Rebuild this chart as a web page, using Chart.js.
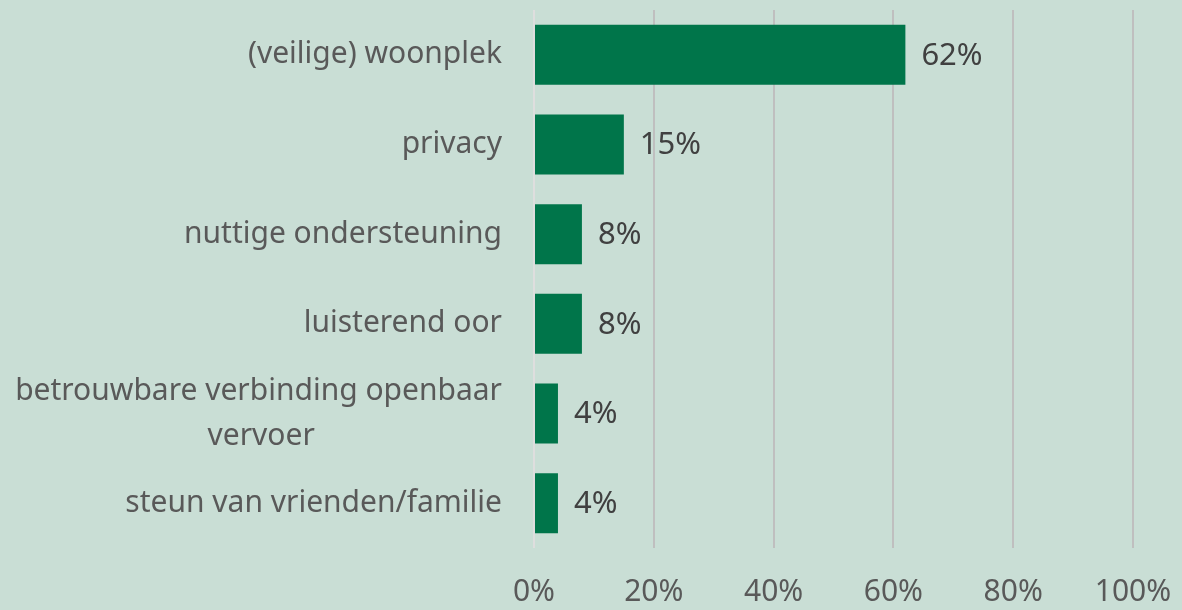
<!DOCTYPE html>
<html><head><meta charset="utf-8">
<script src="https://cdn.jsdelivr.net/npm/chart.js@4"></script>
<style>
html,body{margin:0;padding:0;background:#c9ded5;}
#wrap{width:1182px;height:610px;position:relative;}
</style></head>
<body><div id="wrap"><canvas id="c" width="1182" height="610"></canvas></div>
<script>
const categories = [
  "(veilige) woonplek",
  "privacy",
  "nuttige ondersteuning",
  "luisterend oor",
  ["betrouwbare verbinding openbaar", "vervoer"],
  "steun van vrienden/familie"
];
const values = [62, 15, 8, 8, 4, 4];
const xTicks = [0, 20, 40, 60, 80, 100];

const FONT = "'Noto Sans', Lato, sans-serif";
const CAT_SIZE = 30;

// center multi-line labels (pad shorter lines with trailing no-break spaces)
const mctx = document.createElement('canvas').getContext('2d');
mctx.font = CAT_SIZE + "px " + FONT;
function centerLines(lbl) {
  if (!Array.isArray(lbl)) return lbl;
  const w = lbl.map(s => mctx.measureText(s).width);
  const maxW = Math.max(...w);
  const sp = mctx.measureText("\u00a0").width;
  return lbl.map((s, i) => s + "\u00a0".repeat(Math.round((maxW - w[i]) / 2 / sp)));
}

const labelPlugin = {
  id: 'valLabels',
  afterDatasetsDraw(chart) {
    const ctx = chart.ctx;
    const meta = chart.getDatasetMeta(0);
    ctx.save();
    ctx.font = "31px " + FONT;
    ctx.fillStyle = "#404040";
    ctx.textAlign = "left";
    ctx.textBaseline = "middle";
    meta.data.forEach((bar, i) => {
      ctx.fillText(values[i] + "%", bar.x + 16, bar.y + 1);
    });
    ctx.restore();
  }
};

new Chart(document.getElementById('c'), {
  type: 'bar',
  data: {
    labels: categories.map(centerLines),
    datasets: [{
      data: values,
      backgroundColor: '#00754a',
      borderWidth: 0,
      barPercentage: 0.67,
      categoryPercentage: 1
    }]
  },
  plugins: [labelPlugin],
  options: {
    indexAxis: 'y',
    responsive: false,
    animation: false,
    layout: { padding: { left: 0, right: 49, top: 10, bottom: 0 } },
    plugins: { legend: { display: false }, tooltip: { enabled: false } },
    scales: {
      x: {
        min: 0, max: 100,
        afterBuildTicks(axis) { axis.ticks = xTicks.map(v => ({ value: v })); },
        afterFit(axis) { axis.height = 62; axis.paddingLeft = 0; axis.paddingRight = 0; },
        grid: {
          color: ctx => ctx.tick && ctx.tick.value === 0 ? '#dedede' : '#bfbfbf',
          lineWidth: 2,
          drawTicks: false
        },
        border: { display: false },
        ticks: {
          padding: 26,
          maxRotation: 0,
          color: '#595959',
          font: { size: 30, family: FONT },
          callback: v => v + '%'
        }
      },
      y: {
        afterFit(axis) { axis.width = 534; axis.paddingTop = 0; axis.paddingBottom = 0; },
        grid: { display: false, drawTicks: false },
        border: { display: false },
        ticks: {
          autoSkip: false,
          padding: 32,
          color: '#595959',
          font: { size: CAT_SIZE, family: FONT, lineHeight: 1.5 }
        }
      }
    }
  }
});
</script></body></html>
